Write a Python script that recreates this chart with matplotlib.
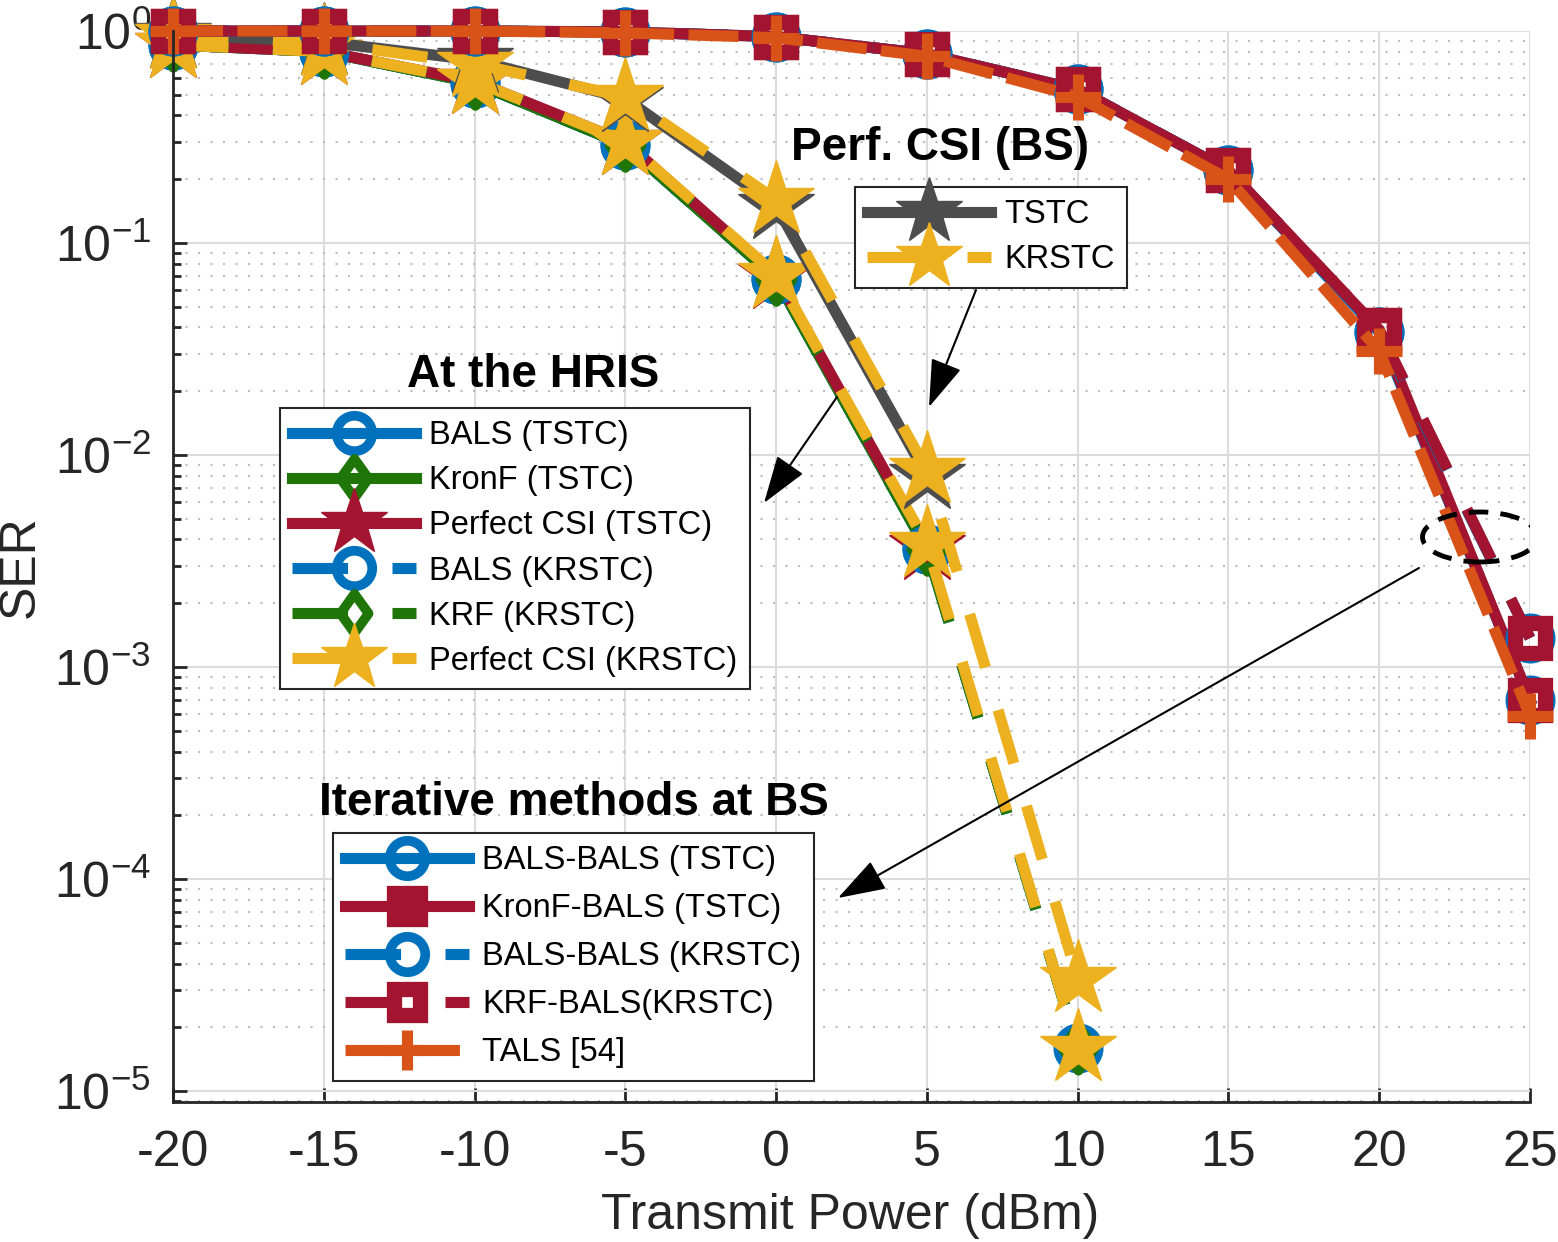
import math
import matplotlib.pyplot as plt
from matplotlib.patches import Ellipse
from matplotlib.path import Path
from matplotlib.ticker import FixedLocator, LogLocator, NullFormatter, FuncFormatter

plt.rcParams['font.family'] = ['Liberation Sans', 'DejaVu Sans']
plt.rcParams['axes.unicode_minus'] = False
plt.rcParams['mathtext.fontset'] = 'custom'
plt.rcParams['mathtext.rm'] = 'Liberation Sans'

# transmit power (dBm)
power_tstc = [-20, -15, -10, -5, 0, 5]
power_krstc = [-20, -15, -10, -5, 0, 5, 10]
power_iter = [-20, -15, -10, -5, 0, 5, 10, 15, 20, 25]

# SER, channel estimation at the HRIS
ser_bals_tstc = [0.86, 0.80, 0.57, 0.29, 0.068, 3.6e-3]
ser_kronf_tstc = [0.86, 0.80, 0.57, 0.29, 0.068, 3.6e-3]
ser_perf_tstc = [0.86, 0.80, 0.58, 0.30, 0.070, 3.7e-3]
ser_bals_krstc = [0.86, 0.80, 0.57, 0.29, 0.068, 3.6e-3, 1.6e-5]
ser_krf_krstc = [0.86, 0.80, 0.57, 0.29, 0.068, 3.6e-3, 1.6e-5]
ser_perf_krstc = [0.86, 0.80, 0.58, 0.30, 0.071, 3.8e-3, 1.6e-5]

# SER, perfect CSI at the BS
ser_bs_tstc = [0.96, 0.89, 0.73, 0.48, 0.15, 8.0e-3]
ser_bs_krstc = [0.95, 0.88, 0.70, 0.49, 0.16, 8.5e-3, 3.4e-5]

# SER, iterative methods at the BS
ser_balsbals_tstc = [1.0, 1.0, 1.0, 0.99, 0.94, 0.78, 0.53, 0.22, 0.038, 7.0e-4]
ser_kronfbals_tstc = [1.0, 1.0, 1.0, 0.99, 0.94, 0.78, 0.53, 0.22, 0.039, 7.0e-4]
ser_balsbals_krstc = [1.0, 1.0, 1.0, 0.99, 0.94, 0.78, 0.53, 0.22, 0.038, 1.37e-3]
ser_krfbals_krstc = [1.0, 1.0, 1.0, 0.99, 0.94, 0.78, 0.53, 0.22, 0.039, 1.37e-3]
ser_tals = [1.0, 1.0, 1.0, 0.98, 0.93, 0.76, 0.49, 0.20, 0.031, 5.9e-4]

BLUE = '#0072BD'
GREEN = '#1F7508'
RED = '#A2142F'
YELLOW = '#EDB120'
GRAY = '#4D4D4D'
ORANGE = '#D95319'
TXT = '#262626'

LW = 8
DASH = (0, (5, 4))
DASH_TALS = (0, (4.5, 1.3))
diamond = Path([(0, 1), (0.72, 0), (0, -1), (-0.72, 0), (0, 1)], closed=True)

W, H = 1558, 1242
fig = plt.figure(figsize=(W / 100, H / 100), dpi=100)
ax = fig.add_axes([173 / W, 1 - 1102 / H, 1357 / W, 1071 / H])


def curve(x, y, color, ls, marker, ms, mew=7, hollow=True):
    if hollow:
        kw = dict(mfc='none', mec=color, mew=mew)
    else:
        kw = dict(mfc=color, mec=color, mew=1)
    line, = ax.plot(x, y, color=color, lw=LW, ls=ls, marker=marker, ms=ms,
                    clip_on=False, **kw)
    return line


# at the HRIS
h1 = curve(power_tstc, ser_bals_tstc, BLUE, '-', 'o', 29)
h2 = curve(power_tstc, ser_kronf_tstc, GREEN, '-', diamond, 32)
h3 = curve(power_tstc, ser_perf_tstc, RED, '-', '*', 57, hollow=False)
h4 = curve(power_krstc, ser_bals_krstc, BLUE, DASH, 'o', 29)
h5 = curve(power_krstc, ser_krf_krstc, GREEN, DASH, diamond, 32)
h6 = curve(power_krstc, ser_perf_krstc, YELLOW, DASH, '*', 57, hollow=False)

# perfect CSI at the BS
b1 = curve(power_tstc, ser_bs_tstc, GRAY, '-', '*', 57, hollow=False)
b2 = curve(power_krstc, ser_bs_krstc, YELLOW, DASH, '*', 57, hollow=False)

# iterative methods
i1 = curve(power_iter, ser_balsbals_tstc, BLUE, '-', 'o', 29)
i2 = curve(power_iter, ser_kronfbals_tstc, RED, '-', 's', 21, mew=11)
i3 = curve(power_iter, ser_balsbals_krstc, BLUE, DASH, 'o', 29)
i4 = curve(power_iter, ser_krfbals_krstc, RED, DASH, 's', 21, mew=11)
i5 = curve(power_iter, ser_tals, ORANGE, DASH_TALS, '+', 33, mew=8)

ax.set_yscale('log')
ax.set_xlim(-20, 25)
ax.set_ylim(8.9e-6, 1)
ax.xaxis.set_major_locator(FixedLocator(power_iter))
ax.yaxis.set_major_locator(FixedLocator([1e-5, 1e-4, 1e-3, 1e-2, 1e-1, 1]))
ax.yaxis.set_minor_locator(LogLocator(base=10, subs=range(2, 10)))
ax.yaxis.set_minor_formatter(NullFormatter())
ax.yaxis.set_major_formatter(FuncFormatter(
    lambda v, p: r'$\mathregular{10^{%d}}$' % round(math.log10(v))))

ax.set_axisbelow(True)
ax.grid(which='major', color='#DCDCDC', lw=1.5, ls='-')
ax.grid(which='minor', axis='y', color='#BDBDBD', lw=1.5, ls=(0, (1, 5)))
for s in ['top', 'right']:
    ax.spines[s].set_visible(False)
for s in ['left', 'bottom']:
    ax.spines[s].set_color(TXT)
    ax.spines[s].set_linewidth(2)
ax.tick_params(which='major', direction='in', length=10, width=2, color=TXT,
               labelcolor=TXT, labelsize=36)
ax.tick_params(which='minor', direction='in', length=6, width=2, color=TXT)
ax.tick_params(axis='x', pad=20)
ax.tick_params(axis='y', pad=16)

ax.set_xlabel('Transmit Power (dBm)', fontsize=36, color=TXT)
ax.set_ylabel('SER', fontsize=36, color=TXT)
ax.xaxis.set_label_coords(0.499, -0.085)
ax.yaxis.set_label_coords(-0.095, 0.5)

leg_kw = dict(loc='upper left', bbox_transform=fig.transFigure, fontsize=23.5,
              borderaxespad=0, fancybox=False, framealpha=1, edgecolor=TXT,
              handlelength=3.8, handletextpad=0.4, borderpad=0.38,
              labelspacing=0.43, markerscale=0.88, numpoints=1)

leg1 = ax.legend([h1, h2, h3, h4, h5, h6],
                 ['BALS (TSTC)', 'KronF (TSTC)', 'Perfect CSI (TSTC)',
                  'BALS (KRSTC)', 'KRF (KRSTC)', 'Perfect CSI (KRSTC)'],
                 bbox_to_anchor=(280 / W, 1 - 408 / H), **leg_kw)
leg1.get_frame().set_linewidth(1.5)
ax.add_artist(leg1)

leg2 = ax.legend([b1, b2], ['TSTC', 'KRSTC'],
                 bbox_to_anchor=(855 / W, 1 - 187 / H), **leg_kw)
leg2.get_frame().set_linewidth(1.5)
ax.add_artist(leg2)

leg_kw['labelspacing'] = 0.52
leg3 = ax.legend([i1, i2, i3, i4, i5],
                 ['BALS-BALS (TSTC)', 'KronF-BALS (TSTC)', 'BALS-BALS (KRSTC)',
                  'KRF-BALS(KRSTC)', 'TALS [54]'],
                 bbox_to_anchor=(333 / W, 1 - 833 / H), **leg_kw)
leg3.get_frame().set_linewidth(1.5)

# group titles
fig.text(940 / W, 1 - 148 / H, 'Perf. CSI (BS)', fontsize=33,
         fontweight='bold', ha='center', va='center')
fig.text(533 / W, 1 - 375 / H, 'At the HRIS', fontsize=33,
         fontweight='bold', ha='center', va='center')
fig.text(574 / W, 1 - 803 / H, 'Iterative methods at BS', fontsize=33,
         fontweight='bold', ha='center', va='center')

# pointer arrows (figure pixels, origin bottom-left)
arrow = dict(arrowstyle='-|>,head_length=1.5,head_width=0.5', lw=1.5,
             color='k', mutation_scale=20, shrinkA=0, shrinkB=0)
for tail, head in [((976, 290), (929, 407)),
                   ((837, 397), (764, 503)),
                   ((1419, 568), (838, 898))]:
    ax.annotate('', xy=(head[0], H - head[1]), xytext=(tail[0], H - tail[1]),
                xycoords='figure pixels', arrowprops=arrow, zorder=6)

ax.add_patch(Ellipse(((1480 - 173) / 1357, 1 - (537 - 31) / 1071),
                     115 / 1357, 50 / 1071, transform=ax.transAxes,
                     fill=False, ec='k', lw=3.5, ls=(0, (4, 2.5)), zorder=6))

fig.savefig('out.png', dpi=100)
